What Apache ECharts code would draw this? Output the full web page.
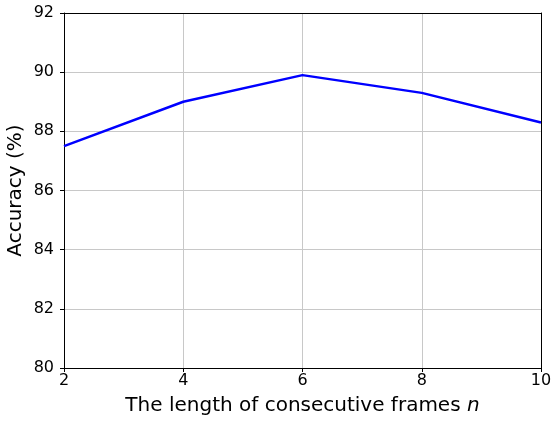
<!DOCTYPE html>
<html>
<head>
<meta charset="utf-8">
<script src="https://cdn.jsdelivr.net/npm/echarts@6/dist/echarts.min.js"></script>
<style>html,body{margin:0;padding:0;background:#fff}#c{width:552px;height:421px}</style>
</head>
<body>
<div id="c"></div>
<script>
var frames = [2, 4, 6, 8, 10];
var accuracy = [87.5, 89.0, 89.9, 89.3, 88.3];
var xTicks = [2, 4, 6, 8, 10];
var yTicks = [80, 82, 84, 86, 88, 90, 92];

var chart = echarts.init(document.getElementById('c'), null, {renderer: 'canvas'});
var font = 'DejaVu Sans';
var xMin = xTicks[0], xMax = xTicks[xTicks.length - 1];
var yMin = yTicks[0], yMax = yTicks[yTicks.length - 1];
function frameAxis(pos) {
  return {
    type: 'value', position: pos, min: pos === 'top' ? xMin : yMin, max: pos === 'top' ? xMax : yMax, interval: 2,
    axisLine: {show: true, onZero: false, lineStyle: {color: '#000', width: 1}},
    axisTick: {show: false}, axisLabel: {show: false}, splitLine: {show: false}, z: 10
  };
}
chart.setOption({
  animation: false,
  backgroundColor: '#fff',
  grid: {left: 64, right: 11, top: 13, bottom: 53, containLabel: false, outerBoundsMode: 'none'},
  xAxis: [{
    type: 'value', min: xMin, max: xMax, interval: 2,
    name: 'The length of consecutive frames {i|n}',
    nameLocation: 'middle', nameGap: 28, nameMoveOverlap: false,
    nameTextStyle: {fontFamily: font, fontSize: 20, color: '#000', rich: {i: {fontFamily: font, fontSize: 20, fontStyle: 'italic', color: '#000'}}},
    axisLine: {show: true, onZero: false, lineStyle: {color: '#000', width: 1}},
    axisTick: {show: true, inside: false, length: 4, lineStyle: {color: '#000', width: 1}},
    axisLabel: {fontFamily: font, fontSize: 16, color: '#000', margin: 5},
    splitLine: {show: true, lineStyle: {color: '#c8c8c8', width: 1}}
  }, frameAxis('top')],
  yAxis: [{
    type: 'value', min: yMin, max: yMax, interval: 2,
    name: 'Accuracy (%)', nameLocation: 'middle', nameGap: 38, nameMoveOverlap: false,
    nameTextStyle: {fontFamily: font, fontSize: 20, color: '#000'},
    axisLine: {show: true, onZero: false, lineStyle: {color: '#000', width: 1}},
    axisTick: {show: true, inside: false, length: 4, lineStyle: {color: '#000', width: 1}},
    axisLabel: {fontFamily: font, fontSize: 16, color: '#000', margin: 10},
    splitLine: {show: true, lineStyle: {color: '#c8c8c8', width: 1}}
  }, frameAxis('right')],
  series: [{
    type: 'line',
    data: frames.map(function (f, i) { return [f, accuracy[i]]; }),
    showSymbol: false, symbol: 'none',
    lineStyle: {color: '#0000ff', width: 2.5},
    itemStyle: {color: '#0000ff'}
  }]
});
</script>
</body>
</html>
